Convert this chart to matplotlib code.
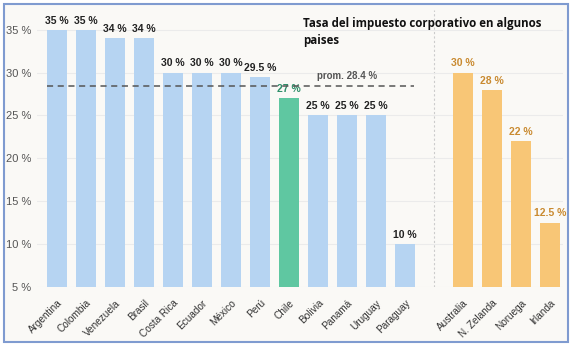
import matplotlib.pyplot as plt
from matplotlib.patches import Rectangle

latam = ["Argentina", "Colombia", "Venezuela", "Brasil", "Costa Rica", "Ecuador",
         "México", "Perú", "Chile", "Bolivia", "Panamá", "Uruguay", "Paraguay"]
latam_vals = [35, 35, 34, 34, 30, 30, 30, 29.5, 27, 25, 25, 25, 10]
latam_lbl = ["35 %", "35 %", "34 %", "34 %", "30 %", "30 %", "30 %", "29.5 %",
             "27 %", "25 %", "25 %", "25 %", "10 %"]
otros = ["Australia", "N. Zelanda", "Noruega", "Irlanda"]
otros_vals = [30, 28, 22, 12.5]
otros_lbl = ["30 %", "28 %", "22 %", "12.5 %"]
promedio = 28.4
yticks = [5, 10, 15, 20, 25, 30, 35]

blue = "#b6d4f2"
green = "#5fc7a1"
orange = "#f8c676"
bg = "#faf9f6"

plt.rcParams['font.family'] = ['Liberation Sans', 'DejaVu Sans']

fig = plt.figure(figsize=(5.75, 3.46), dpi=100)
fig.patch.set_facecolor("white")
frame = Rectangle((4 / 575, 4 / 346), 564 / 575, 338 / 346,
                  transform=fig.transFigure, facecolor=bg,
                  edgecolor="#7f9bd0", linewidth=1.5, zorder=-10)
fig.add_artist(frame)

ax = fig.add_axes([0.064, 0.171, 0.915, 0.80])
ax.set_zorder(1)
ax.patch.set_alpha(0)

x_latam = list(range(len(latam)))
x_otros = [len(latam) + 1 + i for i in range(len(otros))]

colors = [green if c == "Chile" else blue for c in latam]
ax.bar(x_latam, [v - 5 for v in latam_vals], bottom=5, width=0.7,
       color=colors, zorder=2)
ax.bar(x_otros, [v - 5 for v in otros_vals], bottom=5, width=0.7,
       color=orange, zorder=2)

for x, v, t, c in zip(x_latam, latam_vals, latam_lbl, latam):
    col = "#2f8f6a" if c == "Chile" else "#222222"
    ax.annotate(t, (x, v), xytext=(0, 3), textcoords="offset points",
                ha="center", va="bottom", fontsize=7.5, fontweight="bold",
                color=col, zorder=3)
for x, v, t in zip(x_otros, otros_vals, otros_lbl):
    ax.annotate(t, (x, v), xytext=(0, 3), textcoords="offset points",
                ha="center", va="bottom", fontsize=7.5, fontweight="bold",
                color="#c98a30", zorder=3)

ax.plot([-0.35, 12.3], [promedio, promedio], ls=(0, (4, 3)), color="#555555",
        lw=1.1, zorder=4)
ax.text(10, promedio + 0.6, "prom. 28.4 %", ha="center", va="bottom",
        fontsize=7, fontweight="bold", color="#555555")

ax.axvline(13, color="#cccccc", ls=(0, (2, 2)), lw=0.8, zorder=1)

ax.text(8.48, 36.5, "Tasa del impuesto corporativo en algunos\npaises",
        ha="left", va="top", fontsize=8.3, fontweight="bold",
        color="#111111", family=["Open Sans", "DejaVu Sans"], linespacing=1.45)

ax.set_xlim(-0.69, 17.45)
ax.set_ylim(5, 37.3)
ax.set_yticks(yticks)
ax.set_yticklabels([f"{t} %" for t in yticks], fontsize=8, color="#555555")
ax.set_xticks(x_latam + x_otros)
ax.set_xticklabels(latam + otros, rotation=45, ha="right",
                   rotation_mode="anchor", fontsize=7.2, color="#333333")
ax.tick_params(axis="both", length=0)
ax.tick_params(axis="x", pad=8)
ax.tick_params(axis="y", pad=4)
ax.grid(axis="y", color="#ebebeb", lw=0.8, zorder=0)
for s in ax.spines.values():
    s.set_visible(False)

fig.savefig("out.png", dpi=100, facecolor=fig.get_facecolor())
